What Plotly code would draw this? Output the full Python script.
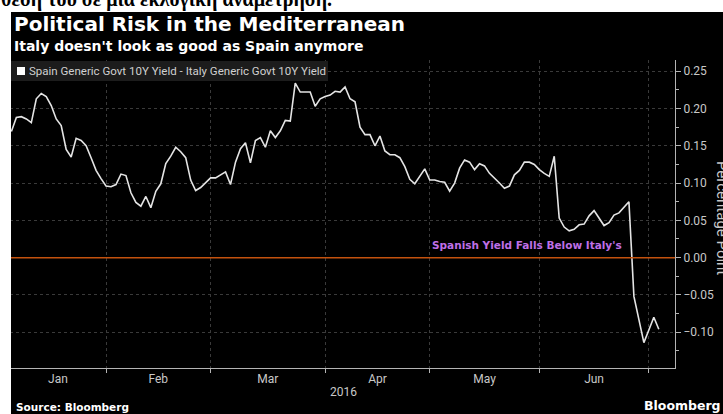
import pandas as pd
import plotly.graph_objects as go

# ---------------- data ----------------
start_date = "2016-01-05"
spread = [0.169, 0.188, 0.189, 0.186, 0.181, 0.213, 0.220, 0.216, 0.204, 0.186,
          0.177, 0.145, 0.135, 0.160, 0.157, 0.150, 0.134, 0.117, 0.106, 0.096,
          0.095, 0.098, 0.112, 0.110, 0.087, 0.074, 0.069, 0.082, 0.067, 0.089,
          0.099, 0.126, 0.136, 0.148, 0.142, 0.134, 0.104, 0.090, 0.094, 0.100,
          0.107, 0.107, 0.111, 0.115, 0.098, 0.128, 0.146, 0.154, 0.127, 0.157,
          0.161, 0.148, 0.170, 0.161, 0.170, 0.184, 0.183, 0.234, 0.222, 0.222,
          0.222, 0.203, 0.213, 0.216, 0.218, 0.223, 0.222, 0.229, 0.213, 0.209,
          0.175, 0.165, 0.165, 0.150, 0.163, 0.143, 0.138, 0.138, 0.134, 0.122,
          0.105, 0.099, 0.109, 0.119, 0.104, 0.104, 0.102, 0.101, 0.089, 0.100,
          0.120, 0.131, 0.128, 0.118, 0.126, 0.123, 0.113, 0.107, 0.100, 0.093,
          0.096, 0.111, 0.117, 0.128, 0.128, 0.125, 0.118, 0.113, 0.109, 0.136,
          0.053, 0.041, 0.036, 0.038, 0.044, 0.045, 0.056, 0.063, 0.053, 0.043,
          0.047, 0.057, 0.060, 0.067, 0.075, -0.052, -0.083, -0.114, -0.097, -0.080,
          -0.096]
y_ticks = [-0.10, -0.05, 0.00, 0.05, 0.10, 0.15, 0.20, 0.25]
series_name = "Spain Generic Govt 10Y Yield - Italy Generic Govt 10Y Yield"
title = "Political Risk in the Mediterranean"
subtitle = "Italy doesn't look as good as Spain anymore"
note = "Spanish Yield Falls Below Italy's"
year_label = "2016"
greek_text = "θέση του σε μια εκλογική αναμέτρηση."

dates = pd.bdate_range(start_date, periods=len(spread))
idx = list(range(len(spread)))

# ---------------- layout geometry ----------------
W, H = 723, 414
L, R, T, B = 10, 675, 60, 368
XR = [-0.28, 133.25]
YR = [-0.148, 0.265]


def px_x(p):
    return (p - L) / (R - L)


def px_y(p):
    return (B - p) / (B - T)


# month boundaries (trading-day index) and label centres
bounds = [i for i in range(1, len(dates)) if dates[i].month != dates[i - 1].month]
edges = [XR[0]] + bounds
month_names = [dates[0].strftime("%b")] + [dates[i].strftime("%b") for i in bounds]
centers, labels = [], []
for k in range(len(edges)):
    a = edges[k]
    b = edges[k + 1] if k + 1 < len(edges) else XR[1]
    if b - a > 10:
        centers.append((a + b) / 2)
        labels.append(month_names[k])

fig = go.Figure()
fig.add_trace(go.Scatter(x=idx, y=spread, mode="lines",
                         line=dict(color="#e4e4e4", width=1.6),
                         showlegend=False, hoverinfo="skip"))

grid_c = "#3a3a3a"
axis_c = "#b4b4b4"
tick_font = dict(family="Roboto", size=12, color="#c8c8c8")

fig.update_layout(
    width=W, height=H,
    margin=dict(l=L, r=W - R, t=T, b=H - B),
    paper_bgcolor="black", plot_bgcolor="black",
    xaxis=dict(range=XR, tickmode="array", tickvals=centers, ticktext=labels,
               ticks="", showgrid=False, zeroline=False,
               showline=True, linecolor=axis_c, linewidth=1,
               tickfont=tick_font,
               minor=dict(tickmode="array", tickvals=bounds, ticks="outside",
                          ticklen=4, tickcolor=axis_c, showgrid=True,
                          gridcolor=grid_c, griddash="dot", gridwidth=1)),
    yaxis=dict(range=YR, side="right", tickmode="array", tickvals=y_ticks,
               tickformat=".2f", ticks="outside", ticklen=5, tickcolor=axis_c,
               showgrid=True, gridcolor=grid_c, griddash="dot", gridwidth=1,
               zeroline=False, showline=True, linecolor=axis_c, linewidth=1,
               tickfont=tick_font,
               minor=dict(dtick=0.025, tick0=0, ticks="outside", ticklen=3,
                          tickcolor=axis_c, showgrid=False)),
)

shapes = [
    # zero line
    dict(type="line", xref="paper", yref="y", x0=0, x1=1, y0=0, y1=0,
         line=dict(color="#c4520e", width=1.5)),
    # legend band
    dict(type="rect", xref="paper", yref="paper", x0=px_x(11), x1=px_x(328),
         y0=px_y(81), y1=px_y(61), fillcolor="#1c1c1c", line=dict(width=0),
         layer="above"),
    dict(type="rect", xref="paper", yref="paper", x0=px_x(17), x1=px_x(25),
         y0=px_y(75), y1=px_y(67), fillcolor="white", line=dict(width=0),
         layer="above"),
    # white page strips
    dict(type="rect", xref="paper", yref="paper", x0=px_x(-5), x1=px_x(W + 5),
         y0=px_y(12), y1=px_y(-5), fillcolor="white", line=dict(width=0),
         layer="above"),
    dict(type="rect", xref="paper", yref="paper", x0=px_x(-5), x1=px_x(11),
         y0=px_y(H + 5), y1=px_y(-5), fillcolor="white", line=dict(width=0),
         layer="above"),
]
fig.update_layout(shapes=shapes)

ann = [
    dict(text="<b>" + greek_text + "</b>", xref="paper", yref="paper",
         x=px_x(-1), y=px_y(13), xanchor="left", yanchor="bottom", showarrow=False,
         font=dict(family="Liberation Serif", size=20, color="black")),
    dict(text="<b>" + title + "</b>", xref="paper", yref="paper",
         x=px_x(12), y=px_y(24), xanchor="left", yanchor="middle", showarrow=False,
         font=dict(family="DejaVu Sans", size=20, color="white")),
    dict(text="<b>" + subtitle + "</b>", xref="paper", yref="paper",
         x=px_x(12), y=px_y(46), xanchor="left", yanchor="middle", showarrow=False,
         font=dict(family="DejaVu Sans", size=14, color="white")),
    dict(text=series_name, xref="paper", yref="paper",
         x=px_x(27), y=px_y(71), xanchor="left", yanchor="middle", showarrow=False,
         font=dict(family="Roboto", size=11.5, color="#d0d0d0")),
    dict(text="<b>" + note + "</b>", xref="x", yref="y",
         x=(430 - 11.4) / 4.98, y=0.017, xanchor="left", yanchor="middle",
         showarrow=False,
         font=dict(family="DejaVu Sans", size=10.5, color="#bf6fe6")),
    dict(text=year_label, xref="x", yref="paper", x=(343 - 11.4) / 4.98,
         y=px_y(392), xanchor="center", yanchor="middle", showarrow=False,
         font=dict(family="Roboto", size=12, color="#c8c8c8")),
    dict(text="Percentage Point", xref="paper", yref="paper",
         x=px_x(722), y=px_y(218), xanchor="center", yanchor="middle",
         textangle=90, showarrow=False,
         font=dict(family="Roboto", size=15, color="#c8c8c8")),
    dict(text="<b>Source: Bloomberg</b>", xref="paper", yref="paper",
         x=px_x(14), y=px_y(407), xanchor="left", yanchor="middle", showarrow=False,
         font=dict(family="DejaVu Sans", size=10.5, color="white")),
    dict(text="<b>Bloomberg</b>", xref="paper", yref="paper",
         x=px_x(642), y=px_y(405), xanchor="left", yanchor="middle", showarrow=False,
         font=dict(family="DejaVu Sans", size=12.5, color="white")),
]
fig.update_layout(annotations=ann)

fig.write_html("out.html")
